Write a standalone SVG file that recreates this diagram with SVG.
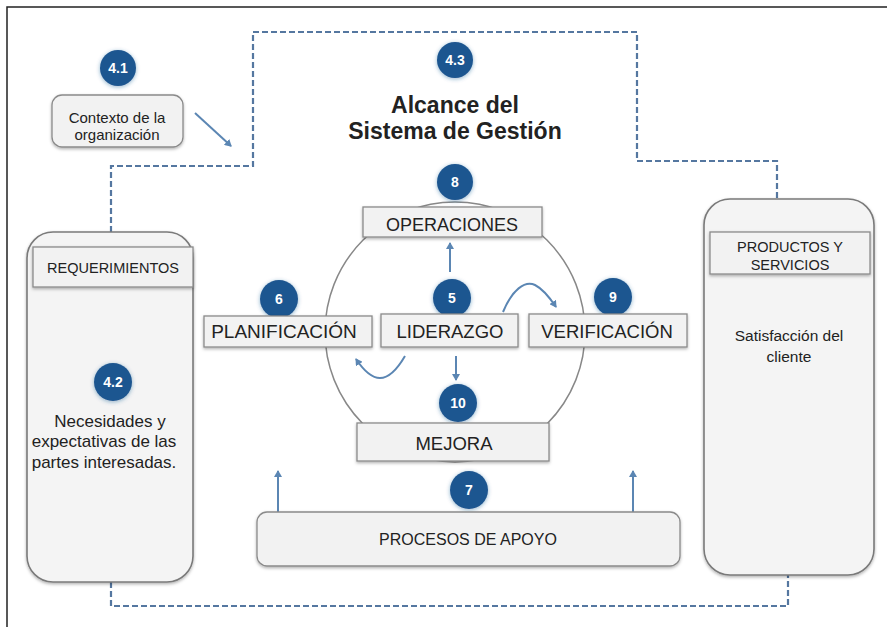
<svg xmlns="http://www.w3.org/2000/svg" width="887" height="627" viewBox="0 0 887 627">
<style>
.t{font-family:"Liberation Sans",Arial,sans-serif;fill:#222;text-anchor:middle}
.box{fill:#f2f2f2;stroke:#8a8a8a;stroke-width:1.3}
.big{fill:#f4f4f4;stroke:#7a7a7a;stroke-width:1.6}
.num{fill:#1f5690}
.nt{font-family:"Liberation Sans",Arial,sans-serif;font-weight:bold;fill:#fff;text-anchor:middle;font-size:14px}
.dash{fill:none;stroke:#5577a0;stroke-width:2.2;stroke-dasharray:6 3}
.arr{fill:none;stroke:#5b86b3;stroke-width:2}
</style>
<defs>
<filter id="sh" x="-10%" y="-10%" width="120%" height="130%"><feDropShadow dx="0" dy="1.5" stdDeviation="1.5" flood-color="#000" flood-opacity="0.3"/></filter>
<filter id="gl" x="-30%" y="-30%" width="160%" height="160%"><feDropShadow dx="0" dy="1" stdDeviation="2" flood-color="#1f5690" flood-opacity="0.45"/></filter>
<marker id="ah" markerWidth="8" markerHeight="8" refX="6" refY="4" orient="auto" markerUnits="userSpaceOnUse"><path d="M0,0 L7,4 L0,8 z" fill="#5b86b3"/></marker>
</defs>
<rect x="0" y="0" width="887" height="627" fill="#fff"/>
<path d="M7,627 V7 H887" fill="none" stroke="#222" stroke-width="1.5"/>

<g id="connectors">
<path class="dash" d="M111,232 V166 H253 V32 H637 V161 H777 V199"/>
<path class="dash" d="M111,582 V606 H788 V575"/>
<line class="arr" x1="195" y1="113" x2="231" y2="146" marker-end="url(#ah)"/>
<line class="arr" x1="450" y1="272" x2="450" y2="243" marker-end="url(#ah)"/>
<line class="arr" x1="456" y1="356" x2="456" y2="380" marker-end="url(#ah)"/>
<path class="arr" d="M503,312 C512,290 525,280 535,285 C543,289 550,298 556,307" marker-end="url(#ah)"/>
<path class="arr" d="M405,356 C398,368 390,378 380,378 C370,378 362,368 356,359" marker-end="url(#ah)"/>
<line class="arr" x1="278" y1="512" x2="278" y2="471" marker-end="url(#ah)"/>
<line class="arr" x1="633" y1="512" x2="633" y2="471" marker-end="url(#ah)"/>
</g>

<g id="sphere"><circle cx="455" cy="332" r="130" fill="none" stroke="#888" stroke-width="1.5"/></g>

<g id="n41">
<circle class="num" cx="118" cy="68" r="18" filter="url(#gl)"/><text class="nt" x="118" y="73">4.1</text>
</g>
<g id="contexto">
<rect class="box" x="52" y="95" width="131" height="52" rx="10" filter="url(#sh)"/>
<text class="t" x="117" y="123" font-size="15">Contexto de la</text>
<text class="t" x="117" y="140" font-size="15">organización</text>
</g>

<g id="n43">
<circle class="num" cx="455" cy="60" r="18" filter="url(#gl)"/><text class="nt" x="455" y="65">4.3</text>
</g>
<g id="titulo">
<text class="t" x="455" y="113" font-size="23" font-weight="bold">Alcance del</text>
<text class="t" x="455" y="139" font-size="23" font-weight="bold">Sistema de Gestión</text>
</g>

<g id="requerimientos">
<rect class="big" x="27" y="232" width="166" height="350" rx="26" filter="url(#sh)"/>
<rect class="box" x="33" y="247" width="160" height="40" filter="url(#sh)"/>
<text class="t" x="113" y="273" font-size="14.5">REQUERIMIENTOS</text>
<circle class="num" cx="113" cy="382" r="19" filter="url(#gl)"/><text class="nt" x="113" y="387">4.2</text>
<text class="t" x="110" y="427" font-size="17">Necesidades y</text>
<text class="t" x="104" y="447" font-size="17">expectativas de las</text>
<text class="t" x="104" y="468" font-size="17">partes interesadas.</text>
</g>

<g id="productos">
<rect class="big" x="704" y="199" width="170" height="376" rx="26" filter="url(#sh)"/>
<rect class="box" x="710" y="232" width="160" height="42" filter="url(#sh)"/>
<text class="t" x="790" y="252" font-size="14.5">PRODUCTOS Y</text>
<text class="t" x="790" y="270" font-size="14.5">SERVICIOS</text>
<text class="t" x="789" y="341" font-size="15.5">Satisfacción del</text>
<text class="t" x="789" y="362" font-size="15.5">cliente</text>
</g>

<g id="operaciones">
<circle class="num" cx="455" cy="182" r="18" filter="url(#gl)"/><text class="nt" x="455" y="187">8</text>
<rect class="box" x="363" y="207" width="179" height="30" filter="url(#sh)"/>
<text class="t" x="452" y="231" font-size="18">OPERACIONES</text>
</g>

<g id="planificacion">
<circle class="num" cx="279" cy="299" r="19" filter="url(#gl)"/><text class="nt" x="279" y="304">6</text>
<rect class="box" x="204" y="316" width="168" height="31" filter="url(#sh)"/>
<text class="t" x="284" y="338" font-size="19">PLANIFICACIÓN</text>
</g>

<g id="liderazgo">
<circle class="num" cx="452" cy="298" r="19" filter="url(#gl)"/><text class="nt" x="452" y="303">5</text>
<rect class="box" x="381" y="314" width="137" height="33" filter="url(#sh)"/>
<text class="t" x="450" y="338" font-size="18.5">LIDERAZGO</text>
</g>

<g id="verificacion">
<circle class="num" cx="613" cy="297" r="19" filter="url(#gl)"/><text class="nt" x="613" y="302">9</text>
<rect class="box" x="529" y="314" width="158" height="33" filter="url(#sh)"/>
<text class="t" x="607" y="338" font-size="18.5">VERIFICACIÓN</text>
</g>

<g id="mejora">
<circle class="num" cx="458" cy="403" r="19" filter="url(#gl)"/><text class="nt" x="458" y="408">10</text>
<rect class="box" x="357" y="423" width="192" height="38" filter="url(#sh)"/>
<text class="t" x="454" y="450" font-size="18.5">MEJORA</text>
</g>

<g id="apoyo">
<circle class="num" cx="469" cy="490" r="19" filter="url(#gl)"/><text class="nt" x="469" y="495">7</text>
<rect class="box" x="257" y="512" width="423" height="54" rx="10" filter="url(#sh)"/>
<text class="t" x="468" y="545" font-size="16">PROCESOS DE APOYO</text>
</g>
</svg>
